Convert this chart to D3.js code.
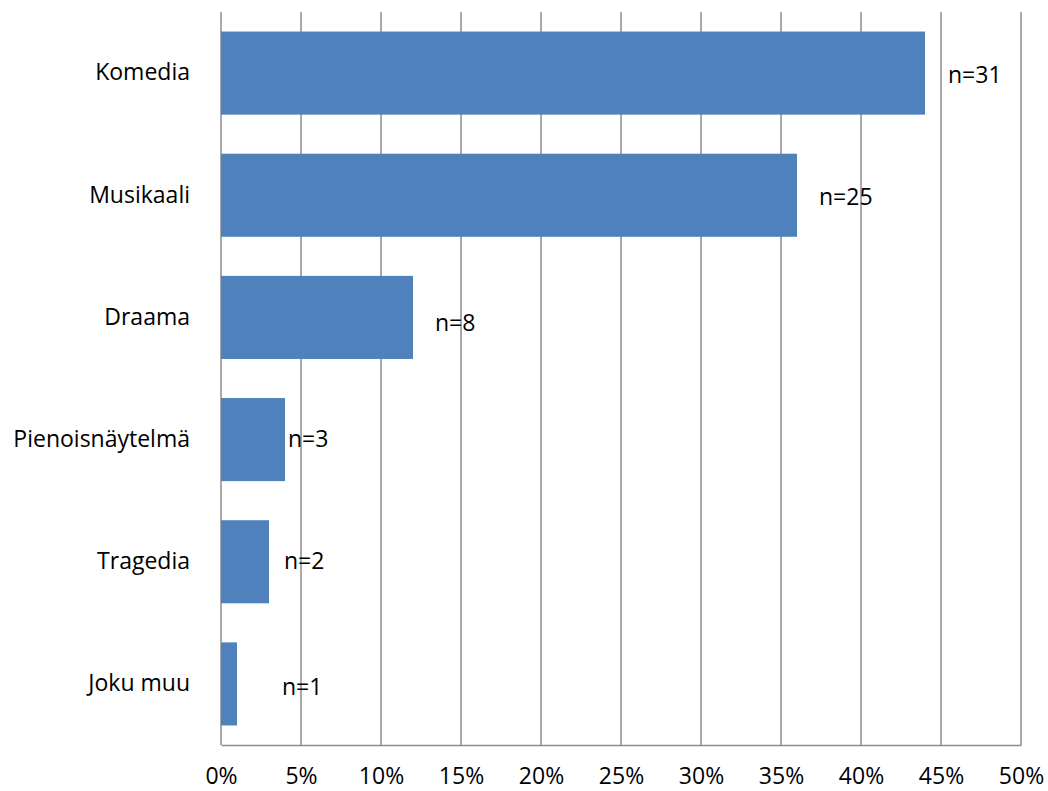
<!DOCTYPE html>
<html>
<head>
<meta charset="utf-8">
<script src="https://cdn.jsdelivr.net/npm/d3@7"></script>
<style>
  body { margin: 0; background: #ffffff; }
  text { font-family: "Open Sans", sans-serif; fill: #000000; }
</style>
</head>
<body>
<div id="chart"></div>
<script>
  const categories = ["Komedia", "Musikaali", "Draama", "Pienoisnäytelmä", "Tragedia", "Joku muu"];
  const shares = [44, 36, 12, 4, 3, 1]; // percent
  const counts = [31, 25, 8, 3, 2, 1];
  const xTicks = [0, 5, 10, 15, 20, 25, 30, 35, 40, 45, 50];

  // label nudges (px) the way they sit in the original, after the bar end
  const labelDx = [23, 22, 22, 3, 15, 45];
  const labelDy = [4, 4, 7, 1, 1, 5];

  const width = 1048;
  const height = 791;
  const margin = { top: 12, right: 27, bottom: 46, left: 221 };
  const fontSize = "23px";

  const svg = d3
    .select("#chart")
    .append("svg")
    .attr("width", width)
    .attr("height", height);

  const x = d3
    .scaleLinear()
    .domain([0, 50])
    .range([margin.left, width - margin.right]);

  const y = d3
    .scaleBand()
    .domain(categories)
    .range([margin.top, height - margin.bottom])
    .paddingInner(0.32)
    .paddingOuter(0.16);

  // vertical gridlines
  svg
    .append("g")
    .selectAll("line")
    .data(xTicks)
    .enter()
    .append("line")
    .attr("x1", (d) => x(d))
    .attr("x2", (d) => x(d))
    .attr("y1", margin.top)
    .attr("y2", height - margin.bottom)
    .style("stroke", "#8c8c8c")
    .style("stroke-width", 1.5);

  // bars
  svg
    .append("g")
    .selectAll("rect")
    .data(categories)
    .enter()
    .append("rect")
    .attr("x", x(0))
    .attr("y", (d) => y(d))
    .attr("width", (d, i) => x(shares[i]) - x(0))
    .attr("height", y.bandwidth())
    .style("fill", "#4f81bd");

  // bottom axis
  const xAxis = d3
    .axisBottom(x)
    .tickValues(xTicks)
    .tickSize(0)
    .tickPadding(23)
    .tickFormat((d) => d + "%");

  const gx = svg
    .append("g")
    .attr("transform", `translate(0, ${height - margin.bottom})`)
    .call(xAxis);
  gx.select(".domain").style("stroke", "#8c8c8c").style("stroke-width", 1.5);
  gx.selectAll("text")
    .style("font-family", "'Open Sans', sans-serif")
    .style("font-size", fontSize)
    .style("fill", "#000");

  // left axis (category labels only)
  const yAxis = d3.axisLeft(y).tickSize(0).tickPadding(31);
  const gy = svg
    .append("g")
    .attr("transform", `translate(${margin.left}, 0)`)
    .call(yAxis);
  gy.select(".domain").remove();
  gy.selectAll("text")
    .style("font-family", "'Open Sans', sans-serif")
    .style("font-size", fontSize)
    .style("fill", "#000");

  // n labels
  svg
    .append("g")
    .selectAll("text")
    .data(categories)
    .enter()
    .append("text")
    .attr("x", (d, i) => x(shares[i]) + labelDx[i])
    .attr("y", (d, i) => y(d) + y.bandwidth() / 2 + labelDy[i])
    .attr("dominant-baseline", "middle")
    .style("font-size", fontSize)
    .text((d, i) => "n=" + counts[i]);
</script>
</body>
</html>
